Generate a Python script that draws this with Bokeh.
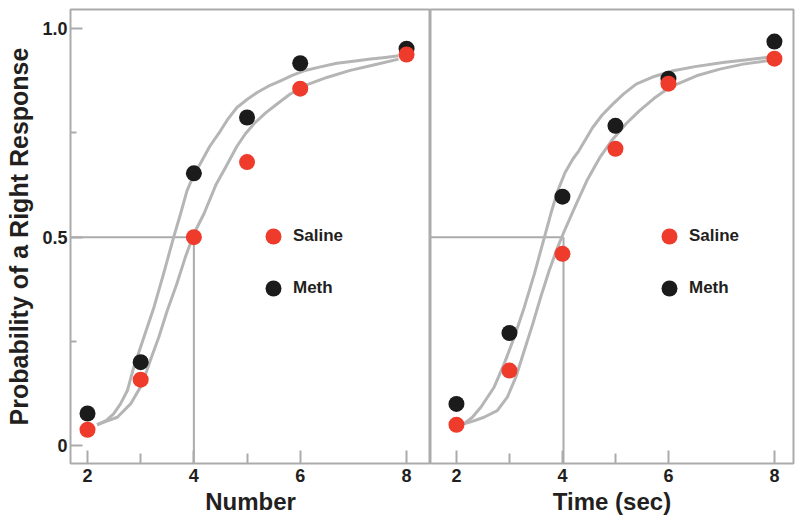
from bokeh.plotting import figure
from bokeh.layouts import row
from bokeh.models import FixedTicker, Legend, LegendItem, Range1d
from bokeh.embed import file_html
from bokeh.resources import INLINE

# ---------------- data ----------------
x_levels = [2, 3, 4, 5, 6, 8]

# Left panel (Number)
num_saline = [0.038, 0.158, 0.50, 0.68, 0.856, 0.938]
num_meth = [0.077, 0.20, 0.653, 0.787, 0.917, 0.952]

# Right panel (Time)
time_saline = [0.05, 0.18, 0.46, 0.712, 0.868, 0.928]
time_meth = [0.10, 0.27, 0.597, 0.767, 0.88, 0.969]

# fitted curves
num_meth_fit_x = [2.18, 2.35, 2.49, 2.62, 2.75, 2.87, 3.06, 3.25, 3.43, 3.62, 3.75, 3.87, 4.0, 4.12,
                  4.3, 4.5, 4.65, 4.81, 5.0, 5.19, 5.4, 5.63, 5.85, 6.07, 6.4, 6.69, 7.0, 7.32, 7.6, 7.85]
num_meth_fit_y = [0.05, 0.06, 0.076, 0.1, 0.132, 0.188, 0.26, 0.332, 0.412, 0.50, 0.556, 0.611, 0.65, 0.676,
                  0.718, 0.755, 0.785, 0.811, 0.83, 0.847, 0.862, 0.875, 0.888, 0.899, 0.909, 0.917, 0.922,
                  0.927, 0.931, 0.935]
num_sal_fit_x = [2.18, 2.35, 2.56, 2.81, 3.03, 3.18, 3.34, 3.5, 3.68, 3.84, 4.0, 4.19, 4.42, 4.6, 4.81,
                 4.97, 5.13, 5.35, 5.57, 5.8, 6.07, 6.5, 6.94, 7.38, 7.85]
num_sal_fit_y = [0.05, 0.058, 0.068, 0.10, 0.148, 0.204, 0.26, 0.324, 0.388, 0.452, 0.508, 0.556, 0.627,
                 0.668, 0.718, 0.748, 0.772, 0.798, 0.82, 0.842, 0.863, 0.883, 0.90, 0.913, 0.927]

time_meth_fit_x = [2.14, 2.3, 2.46, 2.71, 2.9, 3.09, 3.28, 3.47, 3.66, 3.78, 3.91, 4.05, 4.2, 4.31, 4.57,
                   4.75, 4.95, 5.15, 5.39, 5.7, 6.09, 6.5, 7.03, 7.45, 7.86]
time_meth_fit_y = [0.052, 0.068, 0.092, 0.14, 0.196, 0.26, 0.332, 0.412, 0.50, 0.556, 0.611, 0.655, 0.688,
                   0.707, 0.763, 0.793, 0.819, 0.843, 0.867, 0.884, 0.899, 0.909, 0.919, 0.925, 0.931]
time_sal_fit_x = [2.14, 2.3, 2.52, 2.77, 2.96, 3.12, 3.28, 3.44, 3.59, 3.75, 3.91, 4.04, 4.23, 4.46, 4.7,
                  4.95, 5.2, 5.45, 5.73, 6.02, 6.53, 6.97, 7.41, 7.86]
time_sal_fit_y = [0.052, 0.058, 0.068, 0.084, 0.116, 0.164, 0.228, 0.292, 0.356, 0.42, 0.476, 0.516, 0.571,
                  0.635, 0.69, 0.735, 0.772, 0.803, 0.833, 0.859, 0.887, 0.903, 0.915, 0.923]

threshold = 0.5
pse_number = 4.0
pse_time = 4.02

x_major = [2, 4, 6, 8]
x_minor = [3, 5]
y_major = [0, 0.5, 1.0]
y_minor = [0.25, 0.75]
y_labels = {0: "0", 0.5: "0.5", 1: "1.0"}

# ---------------- style ----------------
RED = "#ee3b2b"
BLACK = "#1b1b1b"
GREY = "#ababab"
CURVE = "#b5b5b5"
TEXT = "#231f20"
FONT = "Liberation Sans"
Y0, Y1 = -0.043, 1.046


def make_panel(xr, saline, meth, sal_fx, sal_fy, meth_fx, meth_fy, pse, xlabel,
               with_y, legend_x, width_frame, border_left):
    p = figure(output_backend="svg", toolbar_location=None,
               frame_width=width_frame, frame_height=454,
               x_range=Range1d(*xr), y_range=Range1d(Y0, Y1),
               min_border_left=border_left, min_border_right=0 if with_y else 4,
               min_border_top=9, min_border_bottom=40,
               y_axis_location="left" if with_y else None)
    p.grid.visible = False
    p.outline_line_color = GREY
    p.outline_line_width = 2
    p.background_fill_color = "white"
    p.border_fill_color = "white"

    # reference lines at the point of subjective equality
    p.segment(x0=[xr[0], pse], y0=[threshold, Y0], x1=[pse, pse], y1=[threshold, threshold],
              line_color=GREY, line_width=2)

    # fitted curves
    p.line(meth_fx, meth_fy, line_color=CURVE, line_width=3, line_join="round")
    p.line(sal_fx, sal_fy, line_color=CURVE, line_width=3, line_join="round")

    rm = p.scatter(x_levels, meth, size=16, fill_color=BLACK, line_color=None)
    rs = p.scatter(x_levels, saline, size=16, fill_color=RED, line_color=None)

    legend = Legend(items=[LegendItem(label="Saline", renderers=[rs]),
                           LegendItem(label="Meth", renderers=[rm])],
                    location=(legend_x, 155), orientation="vertical",
                    glyph_width=40, glyph_height=40, spacing=12,
                    label_standoff=0, padding=0, margin=0,
                    border_line_color=None, background_fill_alpha=0,
                    label_text_font=FONT, label_text_font_style="bold",
                    label_text_font_size="17px", label_text_color=TEXT)
    p.add_layout(legend, "center")

    xa = p.xaxis[0]
    xa.ticker = FixedTicker(ticks=x_major, minor_ticks=x_minor)
    xa.axis_line_color = None
    xa.major_tick_in = 13
    xa.major_tick_out = 0
    xa.minor_tick_in = 10
    xa.minor_tick_out = 0
    xa.major_tick_line_color = GREY
    xa.major_tick_line_width = 2
    xa.minor_tick_line_color = GREY
    xa.minor_tick_line_width = 2
    xa.major_label_standoff = 5
    xa.major_label_text_font = FONT
    xa.major_label_text_font_style = "bold"
    xa.major_label_text_font_size = "18px"
    xa.major_label_text_color = TEXT
    xa.axis_label = xlabel
    xa.axis_label_standoff = 3
    xa.axis_label_text_font = FONT
    xa.axis_label_text_font_style = "bold"
    xa.axis_label_text_font_size = "24px"
    xa.axis_label_text_color = TEXT

    if with_y:
        ya = p.yaxis[0]
        ya.ticker = FixedTicker(ticks=y_major, minor_ticks=y_minor)
        ya.major_label_overrides = y_labels
        ya.axis_line_color = None
        ya.major_tick_in = 12
        ya.major_tick_out = 0
        ya.minor_tick_in = 6
        ya.minor_tick_out = 0
        ya.major_tick_line_color = GREY
        ya.major_tick_line_width = 2
        ya.minor_tick_line_color = GREY
        ya.minor_tick_line_width = 2
        ya.major_label_standoff = 3
        ya.major_label_text_font = FONT
        ya.major_label_text_font_style = "bold"
        ya.major_label_text_font_size = "18px"
        ya.major_label_text_color = TEXT
        ya.axis_label = "Probability of a Right Response"
        ya.axis_label_standoff = 6
        ya.axis_label_text_font = FONT
        ya.axis_label_text_font_style = "bold"
        ya.axis_label_text_font_size = "25px"
        ya.axis_label_text_color = TEXT
    return p


p1 = make_panel((1.68, 8.45), num_saline, num_meth, num_sal_fit_x, num_sal_fit_y,
                num_meth_fit_x, num_meth_fit_y, pse_number, "Number",
                True, 183, 360, 70)
p2 = make_panel((1.51, 8.36), time_saline, time_meth, time_sal_fit_x, time_sal_fit_y,
                time_meth_fit_x, time_meth_fit_y, pse_time, "Time (sec)",
                False, 219, 363, 0)

layout = row(p1, p2, spacing=0)
open("out.html", "w").write(file_html(layout, INLINE))
